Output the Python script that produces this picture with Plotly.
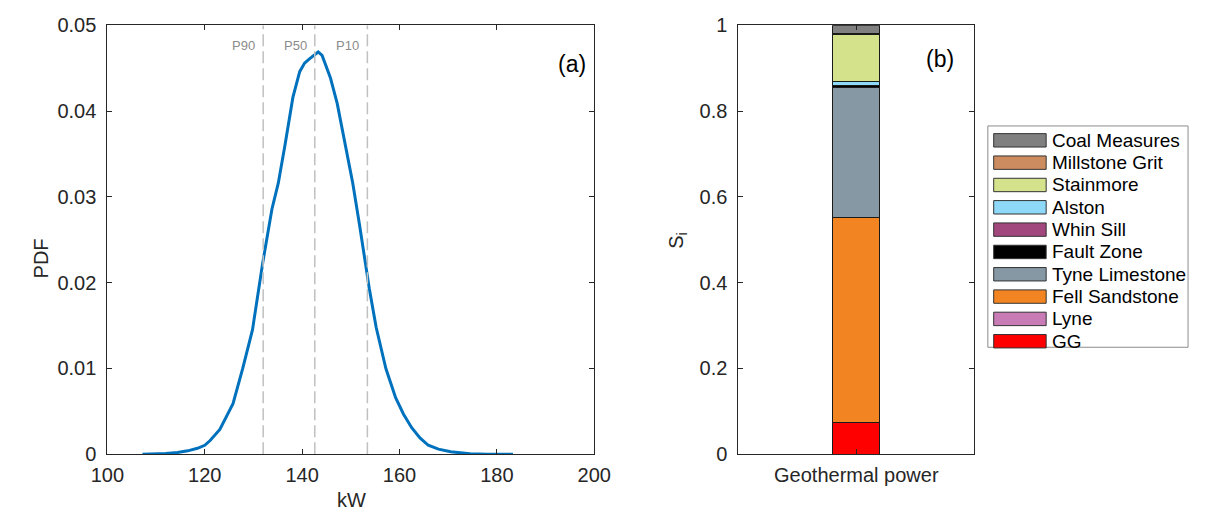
import plotly.graph_objects as go

# ---------------- data ----------------
kw = [107.2, 110, 112, 114.4, 116.5, 118.5, 120.0, 121.1, 123.1, 125.8, 127.8, 129.8,
      131.9, 133.8, 135.1, 136.5, 138.1, 139.5, 140.5, 141.5, 142.5, 143.3, 144.1,
      145.8, 147.2, 148.8, 150.4, 151.8, 153.8, 155.2, 157.2, 159.2, 160.8, 162.5,
      164.2, 165.9, 168.0, 170.5, 174.5, 178.0, 183.3]
pdf = [0, 0.00002, 0.00008, 0.0002, 0.0004, 0.0007, 0.00105, 0.0016, 0.0029, 0.0059,
       0.0100, 0.0145, 0.0223, 0.0286, 0.0316, 0.0361, 0.0416, 0.0446, 0.0456, 0.0461,
       0.0465, 0.0469, 0.0465, 0.0439, 0.0409, 0.0364, 0.0316, 0.0267, 0.0193, 0.0148,
       0.0100, 0.0066, 0.0047, 0.0031, 0.0019, 0.00105, 0.0006, 0.0003, 0.00005,
       0.00001, 0]

pct_labels = ["P90", "P50", "P10"]
pct_values = [132.0, 142.6, 153.4]

x_ticks_a = [100, 120, 140, 160, 180, 200]
y_ticks_a = [0, 0.01, 0.02, 0.03, 0.04, 0.05]
y_ticklabels_a = ["0", "0.01", "0.02", "0.03", "0.04", "0.05"]

category = ["Geothermal power"]
units = ["GG", "Lyne", "Fell Sandstone", "Tyne Limestone", "Fault Zone", "Whin Sill",
         "Alston", "Stainmore", "Millstone Grit", "Coal Measures"]
si_values = [0.073, 0.001, 0.477, 0.304, 0.004, 0.001, 0.010, 0.109, 0.001, 0.020]
unit_colors = ["#FF0000", "#C97BB5", "#F28522", "#8598A4", "#000000", "#A2467E",
               "#8ED8F8", "#D4E28B", "#CD8C5F", "#808080"]

y_ticks_b = [0, 0.2, 0.4, 0.6, 0.8, 1.0]
y_ticklabels_b = ["0", "0.2", "0.4", "0.6", "0.8", "1"]

# ---------------- layout helpers ----------------
W, H = 1207, 524
def px(x):
    return x / W
def py(y):
    return 1 - y / H

FONT = "Liberation Sans, Arial, sans-serif"
DARK = "#262626"
TICKFONT = dict(family=FONT, size=20, color=DARK)

fig = go.Figure()

# (a) PDF curve
fig.add_trace(go.Scatter(x=kw, y=pdf, mode="lines",
                         line=dict(color="#0072BD", width=3),
                         xaxis="x", yaxis="y", showlegend=False))

# percentile lines
for lab, val in zip(pct_labels, pct_values):
    fig.add_trace(go.Scatter(x=[val, val], y=[0, 0.05], mode="lines",
                             line=dict(color="#C0C0C0", width=1.5, dash="12px,5px"),
                             xaxis="x", yaxis="y", showlegend=False))
    fig.add_annotation(x=val, y=0.0476, xref="x", yref="y", text=lab,
                       showarrow=False, xanchor="right", yanchor="middle", xshift=-6,
                       font=dict(family=FONT, size=13, color="#8C8C8C"))

# (b) stacked bars
for name, val, col in zip(units, si_values, unit_colors):
    fig.add_trace(go.Bar(x=category, y=[val], name=name, marker=dict(
        color=col, line=dict(color="#1a1a1a", width=1)),
        xaxis="x2", yaxis="y2", width=0.2, showlegend=False))

common_axis = dict(showline=True, linecolor=DARK, linewidth=1, mirror="ticks",
                   ticks="inside", ticklen=5, tickcolor=DARK, tickwidth=1,
                   showgrid=False, zeroline=False, tickfont=TICKFONT)

fig.update_layout(
    width=W, height=H, autosize=False,
    margin=dict(l=0, r=0, t=0, b=0, pad=0),
    paper_bgcolor="white", plot_bgcolor="white",
    barmode="stack",
    xaxis=dict(domain=[px(93), px(594)], range=[100, 200], tickvals=x_ticks_a,
               anchor="y", ticklabelstandoff=3, **common_axis),
    yaxis=dict(domain=[py(462.7), py(15)], range=[0, 0.05], tickvals=y_ticks_a,
               ticktext=y_ticklabels_a, anchor="x", ticklabelstandoff=6, **common_axis),
    xaxis2=dict(domain=[px(742.3), px(985)], range=[-0.5, 0.5], anchor="y2",
                ticklabelstandoff=3, **common_axis),
    yaxis2=dict(domain=[py(462.7), py(15)], range=[0, 1], tickvals=y_ticks_b,
                ticktext=y_ticklabels_b, anchor="x2", ticklabelstandoff=6, **common_axis),
)

# axis titles and panel labels (explicitly centred)
ann_font = dict(family=FONT, size=20, color=DARK)
def label(x, y, text, font, angle=0):
    fig.add_annotation(x=px(x), y=py(y), xref="paper", yref="paper", text=text,
                       showarrow=False, textangle=angle, font=font,
                       xanchor="center", yanchor="middle")

label(344, 510, "kW", ann_font)
label(25, 258, "PDF", ann_font, -90)
label(680, 240, "S<sub>i</sub>", ann_font, -90)
label(571, 55, "(a)", dict(family=FONT, size=23, color="black"))
label(950, 50, "(b)", dict(family=FONT, size=23, color="black"))

# manual legend (top entry = last stacked unit)
fig.add_shape(type="rect", xref="paper", yref="paper", x0=px(999), x1=px(1205),
              y0=py(351), y1=py(120), line=dict(color="#8C8C8C", width=1),
              fillcolor="white")
for i, (name, col) in enumerate(zip(units[::-1], unit_colors[::-1])):
    yc = 135 + 23.3 * i
    fig.add_shape(type="rect", xref="paper", yref="paper", x0=px(1005), x1=px(1059),
                  y0=py(yc + 7), y1=py(yc - 7), fillcolor=col,
                  line=dict(color="#333333", width=1))
    fig.add_annotation(x=px(1063), y=py(yc), xref="paper", yref="paper", text=name,
                       showarrow=False, xanchor="left", yanchor="middle",
                       font=dict(family=FONT, size=19, color="black"))

fig.write_html("out.html")
